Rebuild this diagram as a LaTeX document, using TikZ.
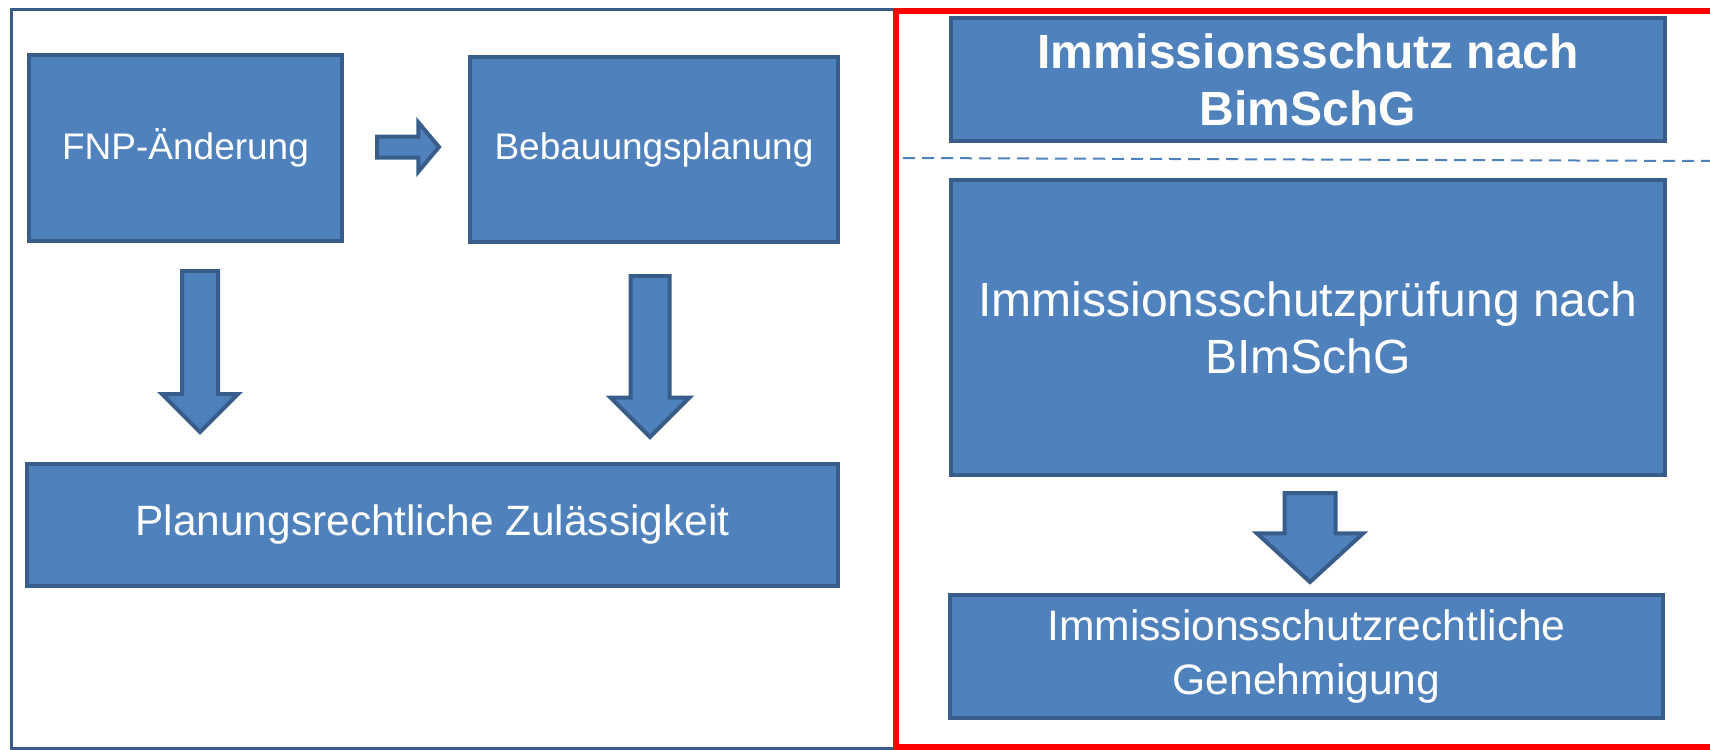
\documentclass[tikz,border=0pt]{standalone}
\usepackage{fontspec}
\setmainfont{Liberation Sans}
\usetikzlibrary{shapes.arrows}
\definecolor{boxfill}{RGB}{79,129,189}
\definecolor{boxline}{RGB}{56,93,138}
\tikzset{
  stepbox/.style={draw=boxline,fill=boxfill,line width=2pt,text=white,align=center,inner sep=0pt},
  blockarr/.style={single arrow,draw=boxline,fill=boxfill,line width=2pt,inner sep=0pt,single arrow head indent=0pt,anchor=tail},
  downarr/.style={blockarr,shape border rotate=270}
}
\begin{document}
\begin{tikzpicture}[x=0.5pt,y=-0.5pt]
\clip (0,0) rectangle (1710,750); %picture size
\draw[boxline,line width=1.5pt] (11,9) rectangle (896,748); %frame left part
% left part
\node[stepbox,minimum width=156.5pt,minimum height=93pt,font=\fontsize{18.5}{22}\selectfont] (fnp) at (185.5,148) {FNP-Änderung};
\node[stepbox,minimum width=184pt,minimum height=92.5pt,font=\fontsize{18.5}{22}\selectfont] (bplan) at (654,149.5) {Bebauungsplanung};
\node[stepbox,minimum width=405.5pt,minimum height=61pt,font=\fontsize{21.2}{25}\selectfont] (zul) at (432.5,525) {Planungsrechtliche Zulässigkeit};
\node[blockarr,minimum height=31pt,inner ysep=4.25pt,single arrow head extend=7pt,single arrow tip angle=100] (arrR) at (375,147) {}; %small arrow
\node[downarr,minimum height=80.5pt,inner xsep=8pt,single arrow head extend=10pt] (arrA) at (200,269) {}; %down arrow
\node[downarr,minimum height=80.5pt,inner xsep=8.75pt,single arrow head extend=10pt] (arrB) at (650,274) {}; %down arrow
% right part
\node[stepbox,minimum width=357pt,minimum height=61.5pt,font=\fontsize{24}{28.5}\selectfont\bfseries] (bimsch) at (1308,79.5) {Immissionsschutz nach\\BimSchG};
\coordinate (sepL) at (903,158);
\coordinate (sepR) at (1712,161);
\draw[boxfill,line width=1pt,dash pattern=on 6pt off 3.5pt] (sepL) -- (sepR); %dashed line
\node[stepbox,minimum width=357pt,minimum height=147.5pt,font=\fontsize{24}{28.5}\selectfont] (pruef) at (1308,327.5) {Immissionsschutzprüfung nach\\BImSchG};
\node[downarr,minimum height=44.5pt,inner xsep=11.75pt,single arrow head extend=13.75pt,single arrow tip angle=95] (arrC) at (1310,491) {}; %down arrow
\node[stepbox,minimum width=356.5pt,minimum height=61.5pt,font=\fontsize{21.3}{27}\selectfont] (genehm) at (1306.5,656.5) {Immissionsschutzrechtliche\\Genehmigung};
\draw[red,line width=3pt] (896,11) rectangle (1730,747); %red frame
\end{tikzpicture}
\end{document}
